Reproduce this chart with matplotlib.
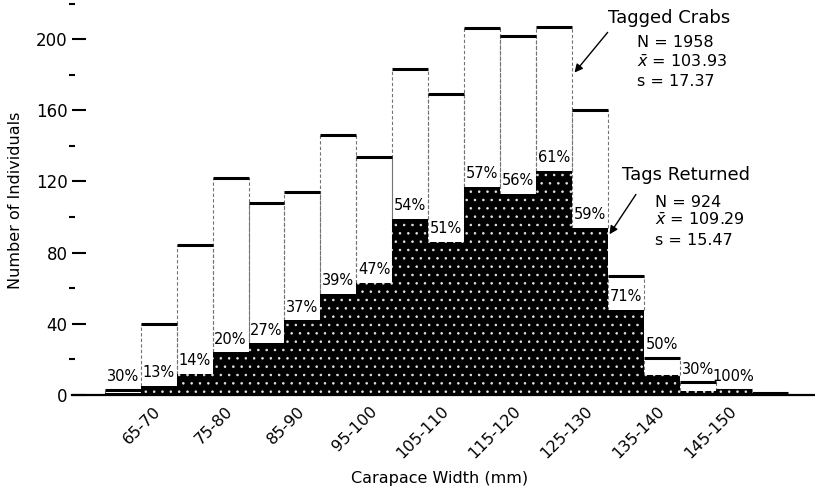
"""
Carapace width frequency of tagged crabs and tags returned.
"""
import matplotlib
matplotlib.use('Agg')
import numpy as np
import matplotlib.pyplot as plt

# 5 mm bins, 60-65 ... 150-155
bin_lo = [60, 65, 70, 75, 80, 85, 90, 95, 100, 105, 110, 115, 120, 125, 130, 135, 140, 145, 150]
tagged = [3, 40, 84, 122, 108, 114, 146, 134, 183, 169, 206, 202, 207, 160, 67, 21, 7, 3, 1]
returned = [1, 5, 12, 24, 29, 42, 57, 63, 99, 86, 117, 113, 126, 94, 48, 11, 2, 3, 1]
pct_labels = ['30%', '13%', '14%', '20%', '27%', '37%', '39%', '47%', '54%', '51%',
              '57%', '56%', '61%', '59%', '71%', '50%', '30%', '100%', '']
tick_labels = ['65-70', '75-80', '85-90', '95-100', '105-110', '115-120',
               '125-130', '135-140', '145-150']
y_ticks = [0, 40, 80, 120, 160, 200]

plt.rcParams['font.family'] = ['DejaVu Sans']
plt.rcParams['hatch.linewidth'] = 0.6

width = 5
lo = np.array(bin_lo, dtype=float)
hi = lo + width
centers = lo + width / 2
tagged = np.array(tagged)
returned = np.array(returned)

fig = plt.figure(figsize=(8.15, 4.93), dpi=100)
ax = fig.add_axes([0.088, 0.199, 0.912, 0.801])

# tagged crabs: open bars with heavy tops and faint dashed sides
ax.vlines(lo, returned, tagged, colors='0.45', lw=0.8, linestyles=(0, (3, 2)))
ax.vlines(hi, returned, tagged, colors='0.45', lw=0.8, linestyles=(0, (3, 2)))
ax.hlines(tagged, lo, hi, colors='black', lw=2.2)

# tags returned: solid speckled fill
ax.bar(centers, returned, width=width, color='black', edgecolor='0.9',
       linewidth=0, hatch='..', zorder=3)

# percentage returned per bin
for c, t, r, lab in zip(centers, tagged, returned, pct_labels):
    if not lab:
        continue
    base = t if (t - r) < 15 else r
    ax.annotate(lab, (c, base), xytext=(0, 4), textcoords='offset points',
                ha='center', va='bottom', fontsize=10.5, zorder=4)

ax.set_xlim(55.4, 158.8)
ax.set_ylim(0, 222)

ax.set_xticks(centers[1::2][:len(tick_labels)])
ax.set_xticklabels(tick_labels, rotation=45, ha='right', va='center',
                   rotation_mode='anchor', fontsize=11.5)
ax.tick_params(axis='x', length=0, pad=10)

ax.set_yticks(y_ticks)
ax.set_yticklabels([str(v) for v in y_ticks], fontsize=12)
ax.set_yticks(np.arange(20, 240, 40), minor=True)
ax.tick_params(axis='y', which='major', direction='in', length=10, width=1.5, pad=3)
ax.tick_params(axis='y', which='minor', direction='inout', length=5, width=1.5)

for side in ['top', 'right', 'left']:
    ax.spines[side].set_visible(False)
ax.spines['bottom'].set_linewidth(1.6)

fig.text(440 / 815, 1 - 479 / 493, 'Carapace Width (mm)', ha='center', va='center',
         fontsize=11.5)
fig.text(16 / 815, 1 - 200 / 493, 'Number of Individuals', ha='center', va='center',
         rotation=90, fontsize=11.5)

# summary statistics
ax.text(130.0, 212, 'Tagged Crabs', fontsize=13, va='center', ha='left')
ax.text(134.1, 198, 'N = 1958', fontsize=11.5, va='center', ha='left')
ax.text(134.1, 187, r'$\bar{x}$ = 103.93', fontsize=11.5, va='center', ha='left')
ax.text(134.1, 176, 's = 17.37', fontsize=11.5, va='center', ha='left')
ax.annotate('', xy=(125.1, 180), xytext=(130.2, 205),
            arrowprops=dict(arrowstyle='-|>', color='black', lw=1.0, mutation_scale=12))

ax.text(131.9, 123.6, 'Tags Returned', fontsize=13, va='center', ha='left')
ax.text(136.5, 108, 'N = 924', fontsize=11.5, va='center', ha='left')
ax.text(136.5, 98.3, r'$\bar{x}$ = 109.29', fontsize=11.5, va='center', ha='left')
ax.text(136.5, 87, 's = 15.47', fontsize=11.5, va='center', ha='left')
ax.annotate('', xy=(130.0, 89), xytext=(134.1, 114),
            arrowprops=dict(arrowstyle='-|>', color='black', lw=1.0, mutation_scale=12))

fig.savefig('out.png', dpi=100)
plt.close(fig)
